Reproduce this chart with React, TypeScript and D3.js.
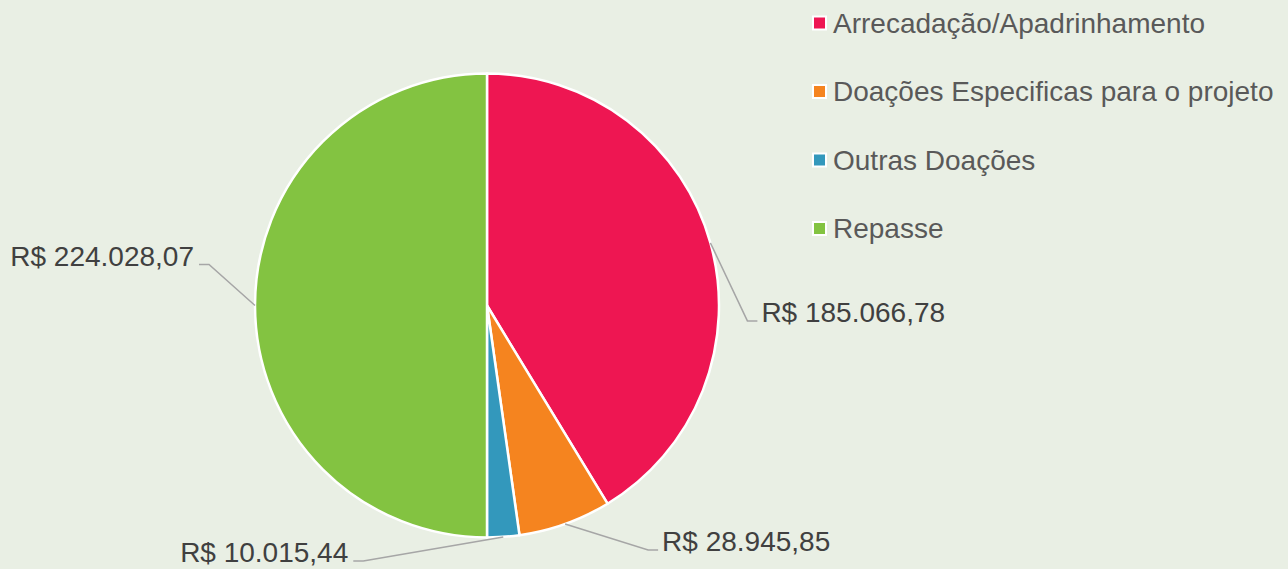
import React from "react";
import * as d3 from "d3";

const categories = [
  "Arrecadação/Apadrinhamento",
  "Doações Especificas para o projeto",
  "Outras Doações",
  "Repasse",
];
const values = [185066.78, 28945.85, 10015.44, 224028.07];
const valueLabels = ["R$ 185.066,78", "R$ 28.945,85", "R$ 10.015,44", "R$ 224.028,07"];
const colors = ["#EE1652", "#F5841F", "#3398BC", "#83C341"];
// label leader offsets (elbow relative to arc edge point)
const labelOffsets: [number, number][] = [
  [37, 78],
  [83, 26],
  [-140, 24],
  [-46, -41],
];

const W = 1288;
const H = 569;
const cx = 487;
const cy = 305.5;
const R = 232;

export default function App() {
  const pie = d3
    .pie<number>()
    .sort(null)
    .value((d) => d)
    .startAngle(0)
    .endAngle(2 * Math.PI);
  const arcs = pie(values);
  const arc = d3.arc<d3.PieArcDatum<number>>().innerRadius(0).outerRadius(R);

  const font = "'Liberation Sans', Arial, sans-serif";

  return (
    <svg
      width={W}
      height={H}
      style={{ position: "absolute", left: 0, top: 0, display: "block" }}
    >
      <rect x={0} y={0} width={W} height={H} fill="#E9EFE4" />
      <g transform={`translate(${cx},${cy})`}>
        {arcs.map((a, i) => (
          <path key={i} d={arc(a) || ""} fill={colors[i]} stroke="#FFFFFF" strokeWidth={2.5} strokeLinejoin="round" />
        ))}
      </g>
      {arcs.map((a, i) => {
        const mid = (a.startAngle + a.endAngle) / 2;
        const px = cx + R * Math.sin(mid);
        const py = cy - R * Math.cos(mid);
        const [dx, dy] = labelOffsets[i];
        const ex = px + dx;
        const ey = py + dy;
        const right = dx > 0;
        const hx = right ? ex + 10 : ex - 10;
        const tx = right ? hx + 4 : hx - 5;
        return (
          <g key={i}>
            <polyline
              points={`${px},${py} ${ex},${ey} ${hx},${ey}`}
              fill="none"
              stroke="#A6A6A6"
              strokeWidth={1.5}
            />
            <text
              x={tx}
              y={ey + 1}
              fontFamily={font}
              fontSize={28}
              fill="#404040"
              textAnchor={right ? "start" : "end"}
            >
              {valueLabels[i]}
            </text>
          </g>
        );
      })}
      {categories.map((c, i) => {
        const y = 23 + i * 68.5;
        return (
          <g key={c}>
            <rect x={812} y={y - 7.5} width={15} height={15} fill="#FFFFFF" />
            <rect x={814} y={y - 5.5} width={11} height={11} fill={colors[i]} />
            <text x={833} y={y} dy="0.35em" fontFamily={font} fontSize={28} fill="#595959">
              {c}
            </text>
          </g>
        );
      })}
    </svg>
  );
}
